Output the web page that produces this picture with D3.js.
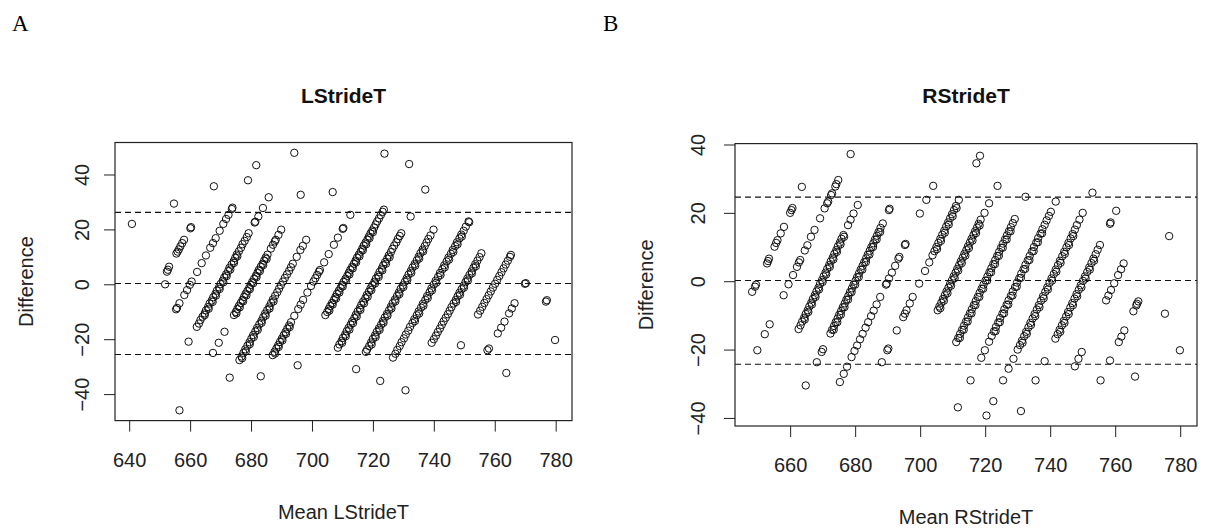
<!DOCTYPE html>
<html>
<head>
<meta charset="utf-8">
<script src="https://cdnjs.cloudflare.com/ajax/libs/d3/7.8.5/d3.min.js"></script>
<style>
  body { margin: 0; background: #fff; }
  text { font-family: "Liberation Sans", Arial, sans-serif; fill: #222; }
  .tick text { font-size: 20px; }
</style>
</head>
<body>
<div id="chart"></div>
<script>
var svgWidth = 1206;
var svgHeight = 529;

// Bland-Altman points, [mean, difference]
var lstridePoints = [
  [640.9,22.0],[654.7,29.4],
  [651.8,0.0],[652.4,4.6],[652.7,5.3],[653.1,6.4],[655.5,11.2],[655.9,11.9],[656.3,12.7],[656.8,13.8],[657.4,15.0],[658.0,16.2],[660.1,20.4],[660.3,20.8],[667.8,35.7],
  [655.4,-9.1],[655.7,-8.6],[656.5,-6.9],[658.1,-3.9],[659.0,-2.1],[659.9,-0.2],[660.5,1.0],[662.3,4.5],[663.8,7.7],[665.2,10.5],[666.6,13.3],[667.5,15.0],[668.4,16.8],[669.7,19.5],[670.9,22.0],[671.8,23.8],[672.6,25.3],[673.7,27.4],[673.9,27.9],[679.0,37.9],[681.7,43.4],
  [659.5,-20.9],[662.2,-15.5],[662.9,-14.3],[663.4,-13.0],[664.1,-11.8],[664.8,-10.6],[665.2,-9.5],[665.9,-8.3],[666.4,-7.0],[667.1,-5.9],[667.6,-4.7],[668.3,-3.5],[668.8,-2.3],[669.5,-1.1],[670.0,0.1],[670.7,1.3],[671.2,2.5],[671.8,3.6],[672.5,4.8],[672.9,6.0],[673.6,7.2],[674.3,8.4],[674.8,9.6],[675.3,10.8],[676.0,12.0],[676.7,13.3],[677.2,14.6],[677.9,15.8],[678.6,17.2],[679.2,18.6],[681.2,22.5],[681.4,22.8],[682.4,24.7],[683.9,27.8],[685.8,31.7],[694.2,47.9],
  [664.8,-11.2],[666.1,-8.9],[667.4,-6.4],[668.5,-4.1],[669.7,-1.7],[670.9,0.7],[672.0,3.0],[673.2,5.4],[674.4,7.8],[675.5,10.2],
  [656.5,-45.9],[667.5,-25.0],[669.4,-21.3],[671.3,-17.3],[674.4,-11.2],[675.0,-10.1],[675.5,-9.0],[676.0,-7.9],[676.6,-6.8],[677.2,-5.7],[677.7,-4.6],[678.2,-3.5],[678.8,-2.4],[679.4,-1.3],[679.9,-0.2],[680.4,0.9],[681.0,2.0],[681.6,3.1],[682.1,4.2],[682.6,5.3],[683.2,6.4],[683.8,7.5],[684.3,8.6],[684.8,9.7],[685.4,10.8],[686.5,13.0],[687.2,14.4],[687.8,15.6],[688.1,16.2],[689.0,18.0],[689.9,19.9],[696.3,32.6],
  [675.2,-10.6],[676.3,-8.4],[677.4,-6.2],[678.5,-4.0],[679.6,-1.8],[680.7,0.4],[681.8,2.6],[682.9,4.8],[684.0,7.0],[685.1,9.2],
  [673.0,-34.0],[676.2,-27.6],[676.9,-26.3],[677.5,-25.0],[678.1,-23.7],[678.8,-22.4],[679.5,-21.1],[680.1,-19.8],[680.7,-18.5],[681.4,-17.2],[682.0,-15.9],[682.7,-14.6],[683.4,-13.3],[684.0,-12.0],[684.6,-10.7],[685.3,-9.4],[686.0,-8.1],[686.6,-6.8],[687.2,-5.5],[687.9,-4.2],[688.6,-2.9],[689.2,-1.6],[689.8,-0.3],[690.5,1.0],[691.1,2.3],[691.8,3.6],[692.5,4.9],[693.1,6.2],[693.7,7.5],[695.0,10.0],[696.2,12.5],[697.0,14.0],[698.1,16.2],[706.8,33.6],
  [677.1,-26.9],[678.3,-24.4],[679.6,-21.8],[680.9,-19.2],[682.2,-16.6],[683.5,-14.0],[684.8,-11.4],[686.1,-8.8],[687.4,-6.2],
  [683.2,-33.5],[687.1,-25.8],[687.7,-24.6],[688.3,-23.4],[688.9,-22.2],[689.5,-21.0],[690.1,-19.8],[690.7,-18.6],[691.3,-17.4],[691.9,-16.2],[692.5,-15.0],[693.1,-13.8],[694.2,-11.5],[695.5,-9.0],[696.3,-7.4],[697.1,-5.7],[698.5,-3.0],[699.7,-0.6],[700.5,1.0],[701.1,2.2],[701.7,3.4],[702.3,4.6],[702.6,5.2],[704.0,8.0],[705.5,11.0],[707.2,14.4],[708.5,17.0],[710.1,20.2],[710.3,20.5],[712.6,25.3],[723.8,47.6],
  [687.9,-25.2],[689.1,-22.8],[690.3,-20.4],[691.5,-18.0],[692.7,-15.6],
  [695.3,-29.5],[704.4,-11.2],[705.0,-10.1],[705.5,-9.0],[706.0,-7.9],[706.6,-6.8],[707.2,-5.7],[707.7,-4.6],[708.2,-3.5],[708.8,-2.4],[709.4,-1.3],[709.9,-0.2],[710.4,0.9],[711.0,2.0],[711.6,3.1],[712.1,4.2],[712.6,5.3],[713.2,6.4],[713.8,7.5],[714.3,8.6],[714.8,9.7],[715.4,10.8],[716.0,11.9],[716.5,13.0],[717.0,14.1],[717.6,15.2],[718.2,16.3],[718.7,17.4],[719.2,18.5],[719.8,19.6],[720.4,20.7],[720.9,21.8],[721.4,22.9],[722.0,24.0],[722.6,25.2],[723.2,26.4],[723.6,27.2],[731.9,43.8],
  [705.7,-9.6],[706.8,-7.4],[707.9,-5.2],[709.0,-3.0],[710.1,-0.8],[711.2,1.4],[712.3,3.6],[713.4,5.8],[714.5,8.0],[715.6,10.2],[716.7,12.4],[717.8,14.6],[718.9,16.8],[720.0,19.0],
  [708.5,-23.1],[709.0,-21.9],[709.7,-20.7],[710.2,-19.5],[710.9,-18.3],[711.4,-17.1],[712.0,-15.9],[712.7,-14.7],[713.2,-13.5],[713.9,-12.3],[714.4,-11.1],[715.0,-9.9],[715.7,-8.7],[716.2,-7.5],[716.8,-6.3],[717.5,-5.1],[718.0,-3.9],[718.7,-2.7],[719.2,-1.5],[719.8,-0.3],[720.5,0.9],[721.0,2.1],[721.7,3.3],[722.2,4.5],[722.9,5.7],[723.4,6.9],[724.0,8.1],[724.7,9.3],[725.2,10.5],[725.9,11.7],[726.4,12.9],[727.0,14.1],[727.7,15.3],[728.2,16.5],[728.8,17.6],[729.3,18.6],[732.4,24.7],[737.2,34.5],
  [709.9,-21.3],[711.1,-18.9],[712.3,-16.5],[713.5,-14.1],[714.7,-11.7],[715.9,-9.3],[717.1,-6.9],[718.3,-4.5],[719.5,-2.1],[720.7,0.3],[721.9,2.7],[723.1,5.1],[724.3,7.5],[725.5,9.9],
  [714.5,-30.9],[717.7,-24.6],[718.1,-23.8],[718.8,-22.5],[719.4,-21.2],[720.0,-19.9],[720.7,-18.6],[721.3,-17.3],[722.0,-16.0],[722.7,-14.7],[723.3,-13.4],[723.9,-12.1],[724.6,-10.8],[725.3,-9.5],[725.9,-8.2],[726.5,-6.9],[727.2,-5.6],[727.9,-4.3],[728.5,-3.0],[729.1,-1.7],[729.8,-0.4],[730.5,0.9],[731.1,2.2],[731.7,3.5],[732.4,4.8],[733.0,6.1],[733.7,7.4],[734.4,8.7],[735.0,10.0],[735.6,11.3],[736.3,12.6],[737.0,13.9],[737.6,15.2],[738.2,16.5],[738.9,17.8],[739.9,19.9],
  [719.6,-21.9],[720.9,-19.2],[722.2,-16.6],[723.5,-14.0],[724.8,-11.4],[726.1,-8.8],[727.4,-6.2],[728.7,-3.6],[730.0,-1.0],[731.3,1.6],[732.6,4.2],[733.9,6.8],[735.2,9.4],[736.5,12.0],
  [722.4,-35.2],[726.6,-26.7],[727.4,-25.3],[728.0,-23.9],[728.8,-22.5],[729.4,-21.1],[730.2,-19.7],[730.8,-18.3],[731.6,-16.9],[732.2,-15.5],[733.0,-14.1],[733.6,-12.7],[734.4,-11.3],[735.0,-9.9],[735.8,-8.5],[736.4,-7.1],[737.2,-5.7],[737.8,-4.3],[738.6,-2.9],[739.2,-1.5],[740.0,-0.1],[740.6,1.3],[741.4,2.7],[742.0,4.1],[742.8,5.5],[743.4,6.9],[744.2,8.3],[744.8,9.7],[745.6,11.1],[746.2,12.5],[747.0,13.9],[747.6,15.3],[748.4,16.7],[749.0,18.1],[749.8,19.5],[750.5,21.0],[751.4,22.9],[751.6,22.6],
  [733.8,-13.4],[735.2,-10.6],[736.6,-7.8],[738.0,-5.0],[739.4,-2.2],[740.8,0.6],[742.2,3.4],[743.6,6.2],[745.0,9.0],[746.4,11.8],[747.8,14.6],[749.2,17.4],
  [730.7,-38.6],[739.3,-21.3],[740.0,-20.0],[740.7,-18.7],[741.3,-17.4],[742.0,-16.1],[742.6,-14.8],[743.2,-13.5],[743.9,-12.2],[744.6,-10.9],[745.2,-9.6],[745.8,-8.3],[746.5,-7.0],[747.2,-5.7],[747.8,-4.4],[748.4,-3.1],[749.1,-1.8],[749.8,-0.5],[750.4,0.8],[751.0,2.1],[751.7,3.4],[752.4,4.7],[753.0,6.0],[753.6,7.3],[754.3,8.6],[755.0,9.9],[755.6,11.3],
  [747.3,-6.4],[748.6,-3.8],[749.9,-1.2],[751.2,1.4],[752.5,4.0],[753.8,6.6],
  [748.9,-22.2],[754.5,-11.0],[755.2,-9.6],[755.9,-8.2],[756.6,-6.8],[757.3,-5.4],[758.0,-4.0],[758.7,-2.6],[759.4,-1.2],[760.1,0.2],[760.8,1.6],[761.5,3.0],[762.2,4.4],[762.9,5.8],[763.6,7.2],[764.3,8.6],[765.0,10.0],[765.3,10.7],
  [757.6,-24.0],[758.1,-23.4],[761.0,-17.9],[762.1,-15.8],[763.2,-13.6],[764.7,-10.6],[765.6,-8.8],[766.5,-6.9],[770.2,0.4],[769.9,0.2],
  [763.8,-32.3],[776.8,-6.3],[777.1,-5.8],[779.8,-20.3]
];
var lstrideLimits = [-25.6, 0.3, 26.2];
var lstrideXTicks = [640, 660, 680, 700, 720, 740, 760, 780];
var lstrideYTicks = [-40, -20, 0, 20, 40];

var rstridePoints = [
  [648.3,-3.1],[649.2,-1.6],[649.5,-1.0],[652.9,5.2],[653.2,5.9],[653.5,6.6],[655.2,10.1],[655.7,11.2],[656.1,12.0],[657.1,14.0],[658.1,15.9],[660.0,20.0],[660.4,20.8],[660.7,21.4],[663.6,27.6],
  [649.9,-20.2],[652.2,-15.5],[653.7,-12.6],[658.0,-4.1],[659.5,-0.9],[660.9,1.8],[662.1,4.2],[662.7,5.5],[663.1,6.2],[664.5,9.0],[665.3,10.5],[666.4,13.0],[667.5,15.0],[669.2,18.4],[670.6,21.3],[671.4,22.8],[671.7,23.3],[672.6,25.2],[672.9,25.7],[673.9,27.7],[674.2,28.4],[674.8,29.6],[678.6,37.2],
  [662.6,-14.0],[663.2,-12.9],[663.7,-11.8],[664.3,-10.7],[664.8,-9.6],[665.4,-8.5],[665.9,-7.4],[666.5,-6.3],[667.0,-5.2],[667.6,-4.1],[668.1,-3.0],[668.7,-1.9],[669.2,-0.8],[669.8,0.3],[670.3,1.4],[670.9,2.5],[671.4,3.6],[672.0,4.7],[672.5,5.8],[673.1,6.9],[673.6,8.0],[674.2,9.1],[674.7,10.2],[675.3,11.3],[675.8,12.4],[676.4,13.5],[677.8,16.4],[678.6,18.0],[679.5,19.8],[680.8,22.3],
  [664.5,-11.2],[665.6,-9.0],[666.7,-6.8],[667.8,-4.6],[668.9,-2.4],[670.0,-0.2],[671.1,2.0],[672.2,4.2],[673.3,6.4],[674.4,8.6],[675.5,10.8],[676.6,13.0],
  [664.8,-30.5],[668.2,-23.7],[669.7,-20.7],[670.1,-19.9],[672.4,-15.3],[672.9,-14.2],[673.5,-13.1],[674.0,-12.0],[674.6,-10.9],[675.1,-9.8],[675.7,-8.7],[676.2,-7.6],[676.8,-6.5],[677.3,-5.4],[677.9,-4.3],[678.4,-3.2],[679.0,-2.1],[679.5,-1.0],[680.1,0.1],[680.6,1.2],[681.2,2.3],[681.7,3.4],[682.3,4.5],[682.8,5.6],[683.4,6.7],[683.9,7.8],[684.5,8.9],[685.0,10.0],[685.6,11.1],[686.1,12.2],[686.7,13.3],[687.2,14.4],[687.8,15.6],[688.5,16.9],[690.4,20.8],[690.6,21.2],
  [673.4,-14.2],[674.5,-12.0],[675.6,-9.8],[676.7,-7.6],[677.8,-5.4],[678.9,-3.2],[680.0,-1.0],[681.1,1.2],[682.2,3.4],[683.3,5.6],[684.4,7.8],[685.5,10.0],[686.6,12.2],[687.7,14.4],
  [675.3,-29.5],[676.5,-27.1],[677.5,-25.0],[678.9,-22.2],[679.8,-20.4],[680.6,-18.8],[681.5,-17.0],[682.3,-15.4],[683.2,-13.6],[684.0,-12.0],[684.9,-10.2],[685.7,-8.6],[686.6,-6.8],[687.7,-4.6],[689.5,-1.0],[689.7,-0.7],[690.4,0.8],[691.3,2.5],[692.3,4.5],[693.3,6.6],[693.6,7.1],[695.3,10.6],[695.5,10.9],[699.9,19.8],[701.9,23.8],[704.0,27.9],
  [688.2,-23.7],[689.9,-20.2],[690.2,-19.7],[692.8,-14.4],[694.8,-10.5],[695.3,-9.5],[695.8,-8.5],[696.8,-6.5],[697.7,-4.6],[699.7,-0.7],[701.5,3.0],[702.8,5.5],[703.8,7.6],[704.4,8.8],[705.0,10.0],[705.6,11.2],[706.2,12.4],[706.8,13.6],[707.4,14.8],[708.0,16.0],[708.6,17.2],[709.2,18.4],[709.8,19.6],[710.4,20.8],[711.0,22.0],[711.9,23.8],[717.3,34.5],[718.4,36.7],
  [705.2,9.4],[706.4,11.8],[707.6,14.2],[708.8,16.6],[710.0,19.0],[711.2,21.4],
  [705.4,-8.5],[705.9,-7.4],[706.5,-6.3],[707.0,-5.2],[707.6,-4.1],[708.1,-3.0],[708.7,-1.9],[709.2,-0.8],[709.8,0.3],[710.3,1.4],[710.9,2.5],[711.4,3.6],[712.0,4.7],[712.5,5.8],[713.1,6.9],[713.6,8.0],[714.2,9.1],[714.7,10.2],[715.3,11.3],[715.8,12.4],[716.4,13.5],[716.9,14.6],[717.5,15.7],[718.0,16.8],[718.6,18.0],[719.8,20.0],[721.2,22.8],[723.8,27.9],
  [706.2,-7.9],[707.3,-5.7],[708.4,-3.5],[709.5,-1.3],[710.6,0.9],[711.7,3.1],[712.8,5.3],[713.9,7.5],[715.0,9.7],[716.1,11.9],[717.2,14.1],[718.3,16.3],
  [711.1,-17.8],[711.7,-16.6],[712.3,-15.4],[712.9,-14.2],[713.5,-13.0],[714.1,-11.8],[714.7,-10.6],[715.3,-9.4],[715.9,-8.2],[716.5,-7.0],[717.1,-5.8],[717.7,-4.6],[718.3,-3.4],[718.9,-2.2],[719.5,-1.0],[720.1,0.2],[720.7,1.4],[721.3,2.6],[721.9,3.8],[722.5,5.0],[723.1,6.2],[723.7,7.4],[724.3,8.6],[724.9,9.8],[725.5,11.0],[726.1,12.2],[726.7,13.4],[727.3,14.6],[727.9,15.8],[728.5,17.0],[729.1,18.2],[732.4,24.7],
  [712.2,-16.6],[713.4,-14.2],[714.6,-11.8],[715.8,-9.4],[717.0,-7.0],[718.2,-4.6],[719.4,-2.2],[720.6,0.2],[721.8,2.6],[723.0,5.0],[724.2,7.4],[725.4,9.8],[726.6,12.2],[727.8,14.6],
  [711.6,-36.9],[715.5,-29.0],[718.8,-22.4],[719.9,-20.2],[721.2,-17.7],[722.0,-16.0],[722.7,-14.7],[723.3,-13.4],[724.0,-12.1],[724.6,-10.8],[725.3,-9.5],[725.9,-8.2],[726.6,-6.9],[727.2,-5.6],[727.9,-4.3],[728.5,-3.0],[729.2,-1.7],[729.8,-0.4],[730.5,0.9],[731.1,2.2],[731.8,3.5],[732.4,4.8],[733.1,6.1],[733.7,7.4],[734.4,8.7],[735.0,10.0],[735.7,11.3],[736.3,12.6],[737.0,13.9],[737.6,15.2],[738.3,16.5],[738.9,17.8],[739.6,19.1],[740.2,20.3],[741.7,23.3],
  [723.2,-14.6],[724.5,-12.0],[725.8,-9.4],[727.1,-6.8],[728.4,-4.2],[729.7,-1.6],[731.0,1.0],[732.3,3.6],[733.6,6.2],[734.9,8.8],[736.2,11.4],[737.5,14.0],
  [720.4,-39.3],[722.5,-35.1],[725.5,-29.0],[727.2,-25.6],[728.7,-22.7],[730.0,-20.0],[730.7,-18.7],[731.3,-17.4],[732.0,-16.1],[732.6,-14.8],[733.3,-13.5],[733.9,-12.2],[734.6,-10.9],[735.2,-9.6],[735.9,-8.3],[736.5,-7.0],[737.2,-5.7],[737.8,-4.4],[738.5,-3.1],[739.1,-1.8],[739.8,-0.5],[740.4,0.8],[741.1,2.1],[741.7,3.4],[742.4,4.7],[743.0,6.0],[743.7,7.3],[744.3,8.6],[745.0,9.9],[745.6,11.2],[746.3,12.5],[746.9,13.8],[747.6,15.1],[748.2,16.4],[749.0,18.0],[750.0,20.0],[753.0,25.9],
  [731.5,-18.0],[732.8,-15.4],[734.1,-12.8],[735.4,-10.2],[736.7,-7.6],[738.0,-5.0],[739.3,-2.4],[740.6,0.2],[741.9,2.8],[743.2,5.4],[744.5,8.0],[745.8,10.6],[747.1,13.2],
  [731.0,-38.0],[735.5,-29.0],[738.3,-23.4],[741.6,-16.8],[742.3,-15.5],[742.9,-14.2],[743.6,-12.9],[744.2,-11.6],[744.9,-10.3],[745.5,-9.0],[746.2,-7.7],[746.8,-6.4],[747.5,-5.1],[748.1,-3.8],[748.8,-2.5],[749.4,-1.2],[750.1,0.1],[750.7,1.4],[751.4,2.7],[752.0,4.0],[752.7,5.3],[753.3,6.6],[754.0,7.9],[754.6,9.2],[755.3,10.6],[758.4,16.8],[758.6,17.2],[760.3,20.6],
  [743.1,-14.8],[744.4,-12.2],[745.7,-9.6],[747.0,-7.0],[748.3,-4.4],[749.6,-1.8],[750.9,0.8],[752.2,3.4],[753.5,6.0],
  [747.6,-24.9],[748.7,-22.7],[749.7,-20.7],[757.2,-5.6],[757.9,-4.2],[758.7,-2.6],[759.7,-0.6],[760.9,1.8],[761.8,3.5],[762.6,5.2],
  [755.5,-29.0],[758.4,-23.2],[761.1,-17.8],[761.9,-16.2],[762.8,-14.4],[765.6,-8.8],[766.5,-7.1],[766.7,-6.6],[767.1,-5.9],[776.6,13.2],
  [766.1,-27.9],[775.3,-9.5],[779.9,-20.2]
];
var rstrideLimits = [-24.3, 0.2, 24.6];
var rstrideXTicks = [660, 680, 700, 720, 740, 760, 780];
var rstrideYTicks = [-40, -20, 0, 20, 40];

var panels = [
  { letter: "A", letterX: 12, title: "LStrideT", xLabel: "Mean LStrideT",
    points: lstridePoints, limits: lstrideLimits, xTicks: lstrideXTicks, yTicks: lstrideYTicks,
    box: { left: 115, right: 572, top: 142.5, bottom: 420.6 }, yTickOffset: 26 },
  { letter: "B", letterX: 603, title: "RStrideT", xLabel: "Mean RStrideT",
    points: rstridePoints, limits: rstrideLimits, xTicks: rstrideXTicks, yTicks: rstrideYTicks,
    box: { left: 735, right: 1197, top: 143.6, bottom: 426 }, yTickOffset: 30 }
];

var svg = d3.select("#chart")
  .append("svg")
  .attr("width", svgWidth)
  .attr("height", svgHeight)
  .style("display", "block");

svg.append("rect")
  .attr("width", svgWidth)
  .attr("height", svgHeight)
  .attr("fill", "#fff");

function drawPanel(p) {
  var g = svg.append("g");
  var b = p.box;

  // R style ranges: data extent plus 4% on each side
  var xExt = d3.extent(p.points, d => d[0]);
  var yExt = d3.extent(p.points, d => d[1]);
  var xPad = (xExt[1] - xExt[0]) * 0.04;
  var yPad = (yExt[1] - yExt[0]) * 0.04;

  var x = d3.scaleLinear()
    .domain([xExt[0] - xPad, xExt[1] + xPad])
    .range([b.left, b.right]);
  var y = d3.scaleLinear()
    .domain([yExt[0] - yPad, yExt[1] + yPad])
    .range([b.bottom, b.top]);

  g.append("g")
    .selectAll("circle")
    .data(p.points)
    .join("circle")
    .attr("cx", d => x(d[0]))
    .attr("cy", d => y(d[1]))
    .attr("r", 3.7)
    .attr("fill", "none")
    .attr("stroke", "#111")
    .attr("stroke-width", 1);

  // mean and limits of agreement
  g.append("g")
    .selectAll("line")
    .data(p.limits)
    .join("line")
    .attr("x1", b.left)
    .attr("x2", b.right)
    .attr("y1", d => y(d))
    .attr("y2", d => y(d))
    .attr("stroke", "#111")
    .attr("stroke-width", 1.1)
    .attr("stroke-dasharray", "6,4");

  g.append("rect")
    .attr("x", b.left)
    .attr("y", b.top)
    .attr("width", b.right - b.left)
    .attr("height", b.bottom - b.top)
    .attr("fill", "none")
    .attr("stroke", "#222")
    .attr("stroke-width", 1.2);

  var xAxis = g.append("g")
    .attr("transform", `translate(0, ${b.bottom})`)
    .attr("color", "#222")
    .call(d3.axisBottom(x).tickValues(p.xTicks).tickSize(11).tickFormat(d3.format("d")));
  xAxis.select(".domain").remove();
  xAxis.selectAll(".tick text").attr("y", 46).attr("dy", null);

  var yAxis = g.append("g")
    .attr("transform", `translate(${b.left}, 0)`)
    .attr("color", "#222")
    .call(d3.axisLeft(y).tickValues(p.yTicks).tickSize(11).tickFormat(d3.format("d")));
  yAxis.select(".domain").remove();
  yAxis.selectAll(".tick text")
    .attr("x", null)
    .attr("dy", null)
    .attr("text-anchor", "middle")
    .attr("transform", `translate(${-p.yTickOffset}, 0) rotate(-90)`);

  var cx = (b.left + b.right) / 2;
  var cy = (b.top + b.bottom) / 2;

  g.append("text")
    .attr("x", cx)
    .attr("y", 102.5)
    .attr("text-anchor", "middle")
    .style("font-size", "21px")
    .style("font-weight", "bold")
    .style("fill", "#111")
    .text(p.title);

  g.append("text")
    .attr("x", cx)
    .attr("y", b.bottom + 98)
    .attr("text-anchor", "middle")
    .style("font-size", "20px")
    .text(p.xLabel);

  g.append("text")
    .attr("transform", `translate(${b.left - 82.5}, ${cy}) rotate(-90)`)
    .attr("text-anchor", "middle")
    .style("font-size", "20px")
    .text("Difference");

  g.append("text")
    .attr("x", p.letterX)
    .attr("y", 31)
    .style("font-family", "'Liberation Serif', 'Times New Roman', serif")
    .style("font-size", "23px")
    .style("fill", "#000")
    .text(p.letter);
}

panels.forEach(drawPanel);
</script>
</body>
</html>
